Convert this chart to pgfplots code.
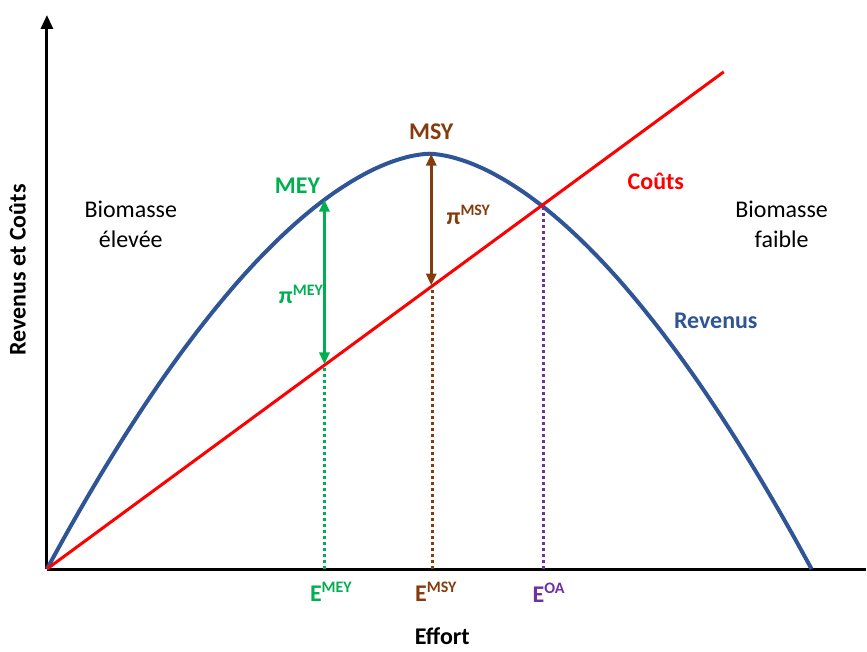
\documentclass[border=0pt]{standalone}
\usepackage{pgfplots}
\pgfplotsset{compat=1.18}
\usepackage{fontspec}
\setmainfont{Carlito}
\usetikzlibrary{arrows.meta}
\definecolor{cblue}{HTML}{2F5597}
\definecolor{cred}{HTML}{FF0000}
\definecolor{cgreen}{HTML}{00B050}
\definecolor{cbrown}{HTML}{843C0C}
\definecolor{cpurple}{HTML}{7030A0}
\begin{document}
\begin{tikzpicture}
\begin{axis}[
  x=0.5pt, y=0.5pt,
  xmin=0, xmax=820, ymin=0, ymax=555,
  axis lines=left,
  axis line style={line width=1.5pt, black},
  x axis line style={-},
  y axis line style={-{Triangle[length=7pt,width=6pt]}},
  xtick=\empty, ytick=\empty,
  clip=false,
  font=\fontsize{12}{14}\selectfont,
  xlabel={\textbf{Effort}},
  xlabel style={at={(axis description cs:0.483,-0.121)}, anchor=center},
  ylabel={\textbf{Revenus et Coûts}},
  ylabel style={at={(axis description cs:-0.036,0.54)}, anchor=center, rotate=0},
]
\path (axis cs:-47,-78) rectangle (axis cs:820,570);
% Revenue curve
\addplot[cblue, line width=2pt, smooth] coordinates {
 (0,0) (19.15,34.7) (38.3,68.2) (57.45,100.4) (76.6,131.3) (95.75,160.9)
 (114.9,189.2) (134.05,216.0) (153.2,241.4) (172.35,265.4) (191.5,288.0)
 (210.65,309.0) (229.8,328.4) (248.95,346.2) (268.1,362.3) (287.25,376.6)
 (306.4,389.0) (325.55,399.5) (344.7,407.7) (363.85,413.4) (383,416)
 (402.15,413.4) (421.3,407.7) (440.45,399.5) (459.6,389.0) (478.75,376.6)
 (497.9,362.3) (517.05,346.2) (536.2,328.4) (555.35,309.0) (574.5,288.0)
 (593.65,265.4) (612.8,241.4) (631.95,216.0) (651.1,189.2) (670.25,160.9)
 (689.4,131.3) (708.55,100.4) (727.7,68.2) (746.85,34.7) (766,0)};
% Cost line
\addplot[cred, line width=1.5pt] coordinates {(0,0) (678,498)};
% dotted verticals
\addplot[cgreen, line width=1.5pt, dash pattern=on 1.5pt off 1.5pt] coordinates {(278,0) (278,203)};
\addplot[cbrown, line width=1.5pt, dash pattern=on 1.5pt off 1.5pt] coordinates {(386,0) (386,283)};
\addplot[cpurple, line width=1.5pt, dash pattern=on 1.5pt off 1.5pt] coordinates {(497,0) (497,365)};
% profit arrows
\addplot[cgreen, line width=1.5pt, {Triangle[length=6pt,width=5pt]}-{Triangle[length=6pt,width=5pt]}] coordinates {(278,205) (278,370)};
\addplot[cbrown, line width=1.5pt, {Triangle[length=6pt,width=5pt]}-{Triangle[length=6pt,width=5pt]}] coordinates {(385,284) (385,416)};
% labels
\node[text=cbrown, font=\fontsize{12}{14}\selectfont\bfseries] at (axis cs:385,438) {MSY};
\node[text=cgreen, font=\fontsize{12}{14}\selectfont\bfseries] at (axis cs:251,384) {MEY};
\node[text=cbrown, font=\fontsize{12}{14}\selectfont\bfseries, anchor=west, inner sep=0pt] at (axis cs:400,355) {π\textsuperscript{MSY}};
\node[text=cgreen, font=\fontsize{12}{14}\selectfont\bfseries, anchor=west, inner sep=0pt] at (axis cs:232,275) {π\textsuperscript{MEY}};
\node[text=cred, font=\fontsize{12}{14}\selectfont\bfseries] at (axis cs:610,388) {Coûts};
\node[text=cblue, font=\fontsize{12}{14}\selectfont\bfseries] at (axis cs:670,249) {Revenus};
\node[align=center, font=\fontsize{12}{15}\selectfont] at (axis cs:84,345) {Biomasse\\élevée};
\node[align=center, font=\fontsize{12}{15}\selectfont] at (axis cs:736,345) {Biomasse\\faible};
\node[text=cgreen, font=\fontsize{12}{14}\selectfont\bfseries] at (axis cs:285,-23) {E\textsuperscript{MEY}};
\node[text=cbrown, font=\fontsize{12}{14}\selectfont\bfseries] at (axis cs:390,-23) {E\textsuperscript{MSY}};
\node[text=cpurple, font=\fontsize{12}{14}\selectfont\bfseries] at (axis cs:503,-24) {E\textsuperscript{OA}};
\end{axis}
\end{tikzpicture}
\end{document}
